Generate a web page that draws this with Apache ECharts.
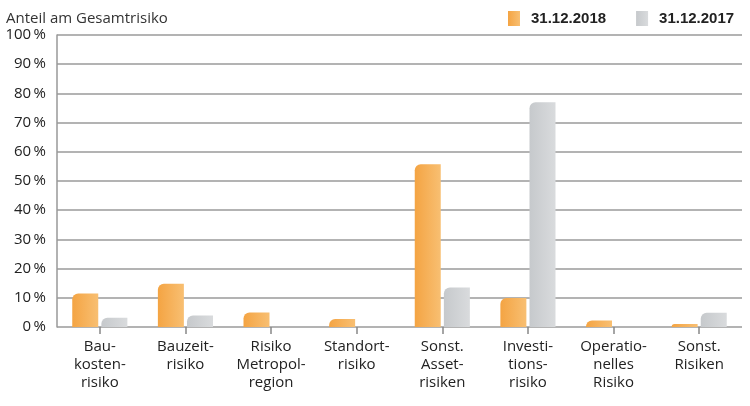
<!DOCTYPE html>
<html><head><meta charset="utf-8">
<script src="https://cdn.jsdelivr.net/npm/echarts@6/dist/echarts.min.js"></script>
<style>html,body{margin:0;padding:0;background:#fff}#c{width:750px;height:406px}</style>
</head><body><div id="c"></div>
<script>
const categories = ["Bau-\nkosten-\nrisiko","Bauzeit-\nrisiko","Risiko\nMetropol-\nregion","Standort-\nrisiko","Sonst.\nAsset-\nrisiken","Investi-\ntions-\nrisiko","Operatio-\nnelles\nRisiko","Sonst.\nRisiken"];
const values2018 = [11.5, 14.8, 5.0, 2.7, 55.7, 9.9, 2.2, 1.0];
const values2017 = [3.2, 3.9, null, null, 13.5, 77.0, null, 4.9];
const seriesNames = ["31.12.2018", "31.12.2017"];
const yTitle = "Anteil am Gesamtrisiko";

const font = "Open Sans";
const orange = new echarts.graphic.LinearGradient(0,0,1,0,[{offset:0,color:'#F4A443'},{offset:1,color:'#F8BF72'}]);
const grey = new echarts.graphic.LinearGradient(0,0,1,0,[{offset:0,color:'#C6C9CC'},{offset:1,color:'#D9DBDD'}]);
const chart = echarts.init(document.getElementById('c'));
chart.setOption({
  animation:false,
  textStyle:{fontFamily:font},
  title:{text:yTitle,left:1,top:6,textStyle:{fontFamily:font,fontSize:15,fontWeight:'normal',color:'#333'}},
  legend:{left:503,top:6,itemWidth:12,itemHeight:15,itemGap:30,icon:'rect',
    textStyle:{fontFamily:'Liberation Sans',fontSize:15,fontWeight:'bold',color:'#222',padding:[0,0,0,6]},
    data:seriesNames},
  grid:{left:57,right:8,top:35,bottom:79},
  xAxis:{type:'category',data:categories,
    axisLine:{show:false},
    axisTick:{show:true,alignWithLabel:true,length:7,lineStyle:{color:'#888',width:1.5}},
    axisLabel:{fontFamily:font,fontSize:15,color:'#222',lineHeight:18,margin:11,interval:0}},
  yAxis:{type:'value',min:0,max:100,interval:10,
    axisLine:{show:true,lineStyle:{color:'#999',width:1.5}},
    axisTick:{show:false},
    splitLine:{lineStyle:{color:'#9a9a9a',width:1.5}},
    axisLabel:{fontFamily:font,fontSize:15,color:'#222',margin:11,formatter:v=>v+'\u2009%'}},
  series:[
    {name:seriesNames[0],type:'bar',data:values2018,barWidth:26,barGap:'12%',
      itemStyle:{color:orange,borderRadius:[6,0,0,0]}},
    {name:seriesNames[1],type:'bar',data:values2017,barWidth:26,
      itemStyle:{color:grey,borderRadius:[6,0,0,0]}}
  ]
});
</script></body></html>
